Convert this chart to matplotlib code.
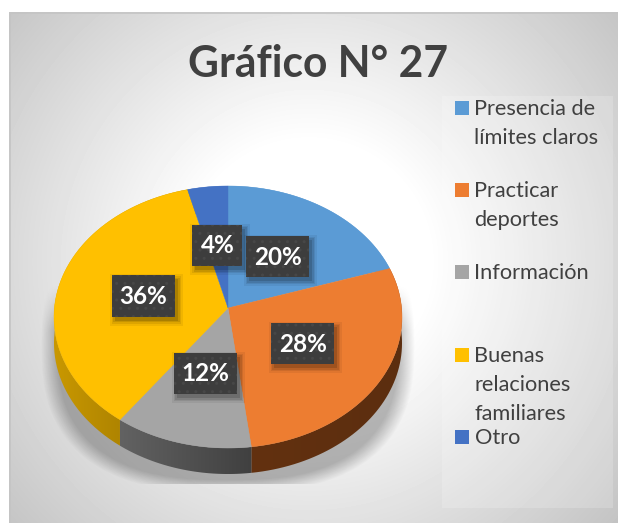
import numpy as np
import matplotlib
matplotlib.use('Agg')
import matplotlib.pyplot as plt
from matplotlib.patches import Polygon, Rectangle
from matplotlib.colors import LinearSegmentedColormap

plt.rcParams['font.family'] = ['Lato', 'DejaVu Sans']

# datos
categorias = ['Presencia de\nlímites claros', 'Practicar\ndeportes', 'Información',
              'Buenas\nrelaciones\nfamiliares', 'Otro']
valores = [20, 28, 12, 36, 4]
colores = ['#5B9BD5', '#ED7D31', '#A5A5A5', '#FFC000', '#4472C4']
colores_lado = [('#5B9BD5', '#5B9BD5'), ('#63310F', '#5C2E10'), ('#626262', '#404040'),
                ('#C99800', '#947000'), ('#4472C4', '#4472C4')]
titulo = 'Gráfico N° 27'

W, H = 618, 523
CX, CY = 228, 308      # vertice del pie
A, B, K = 173.6, 130.4, 0.0687  # semiejes y perspectiva
PROF = 26


def proyectar(theta, r=1.0):
    # angulo en grados desde arriba, sentido horario
    t = np.radians(theta)
    u, v = r * np.sin(t), r * np.cos(t)
    d = 1 + K * v
    return CX + A * u / d, CY - B * v / d


fig = plt.figure(figsize=(W / 100, H / 100), dpi=100, facecolor='white')
ax = fig.add_axes([0, 0, 1, 1])
ax.axis('off')

# fondo con degradado radial
xx, yy = np.meshgrid(np.arange(9, W) + 0.5, np.arange(12, H) + 0.5)
dist = np.hypot(xx - 309, yy - 262)
gris = np.clip(255 - np.clip(dist - 120, 0, None) * 0.21, 190, 255) / 255
ax.imshow(gris, cmap='gray', vmin=0, vmax=1, extent=(9, W, H, 12), zorder=0, aspect='auto')
ax.plot([9.5, 9.5, W], [H, 12.5, 12.5], color='#C4C4C4', lw=1.2, zorder=1)

# sombra del pie
sx, sy = np.meshgrid(np.arange(30, 430) + 0.5, np.arange(260, 484) + 0.5)
d_forma = (np.abs((sx - 228) / 187) ** 2.6 + np.abs((sy - 345) / 148) ** 2.6) ** (1 / 2.6)
alfa = np.clip((1.0 - d_forma) / 0.09, 0, 1) * np.clip((sy - 285) / 45, 0, 1) * 0.27
sombra = np.zeros(sx.shape + (4,))
sombra[..., 3] = alfa
ax.imshow(sombra, extent=(30, 430, 484, 260), zorder=2, aspect='auto')

# leyenda: fondo claro translucido
ax.add_patch(Rectangle((442, 96), 171, 412, fc='white', ec='none', alpha=0.18, zorder=2))

# lados y caras del pie
bordes = np.concatenate([[0], np.cumsum(valores)]) * 3.6
for i in range(len(valores)):
    ang = np.linspace(bordes[i], bordes[i + 1], 60)
    x, y = proyectar(ang)
    lado = np.column_stack([np.r_[x, x[::-1]], np.r_[y, y[::-1] + PROF]])
    pol = Polygon(lado, closed=True, fc='none', ec='none', zorder=3)
    ax.add_patch(pol)
    cmap = LinearSegmentedColormap.from_list('lado', colores_lado[i])
    grad = ax.imshow(np.linspace(0, 1, 256)[None, :], cmap=cmap, zorder=3, aspect='auto',
                     extent=(x.min(), x.max(), y.max() + PROF, y.min()))
    grad.set_clip_path(pol)
for i in range(len(valores)):
    ang = np.linspace(bordes[i], bordes[i + 1], 60)
    x, y = proyectar(ang)
    cara = np.column_stack([np.r_[CX, x], np.r_[CY, y]])
    ax.add_patch(Polygon(cara, closed=True, fc=colores[i], ec=colores[i], lw=0.3, zorder=4))

# etiquetas de porcentaje
for i, val in enumerate(valores):
    lx, ly = proyectar((bordes[i] + bordes[i + 1]) / 2, 0.5)
    txt = f'{val}%'
    bw = 50 if val < 10 else 63.5
    bh = 41.5
    for g, a in zip([5, 3, 1.5, 0], [0.06, 0.08, 0.10, 0.14]):
        ax.add_patch(Rectangle((lx - bw / 2 + 3 - g, ly - bh / 2 + 4 - g), bw + 2 * g, bh + 2 * g,
                               fc='black', ec='none', alpha=a, zorder=5))
    ax.add_patch(Rectangle((lx - bw / 2, ly - bh / 2), bw, bh, fc='#3D3D3D', ec='#474747',
                           lw=0, hatch='..', zorder=6))
    ax.text(lx, ly + 8, txt, color='white', fontsize=17.5, fontweight='bold',
            ha='center', va='baseline', zorder=7)

# titulo
ax.text(318.5, 77, titulo, color='#404040', fontsize=30.7, fontweight='bold',
        ha='center', va='baseline', zorder=7)

# leyenda
for i, cat in enumerate(categorias):
    yc = 108 + i * 82.2
    ax.add_patch(Rectangle((455, yc - 7), 14, 14, fc=colores[i], ec='none', zorder=7))
    for j, linea in enumerate(cat.split('\n')):
        ax.text(474.5, yc + 7 + j * 29.3, linea, color='#404040', fontsize=15.7,
                ha='left', va='baseline', zorder=7)

ax.set_xlim(0, W)
ax.set_ylim(H, 0)
fig.savefig('out.png', dpi=100)
